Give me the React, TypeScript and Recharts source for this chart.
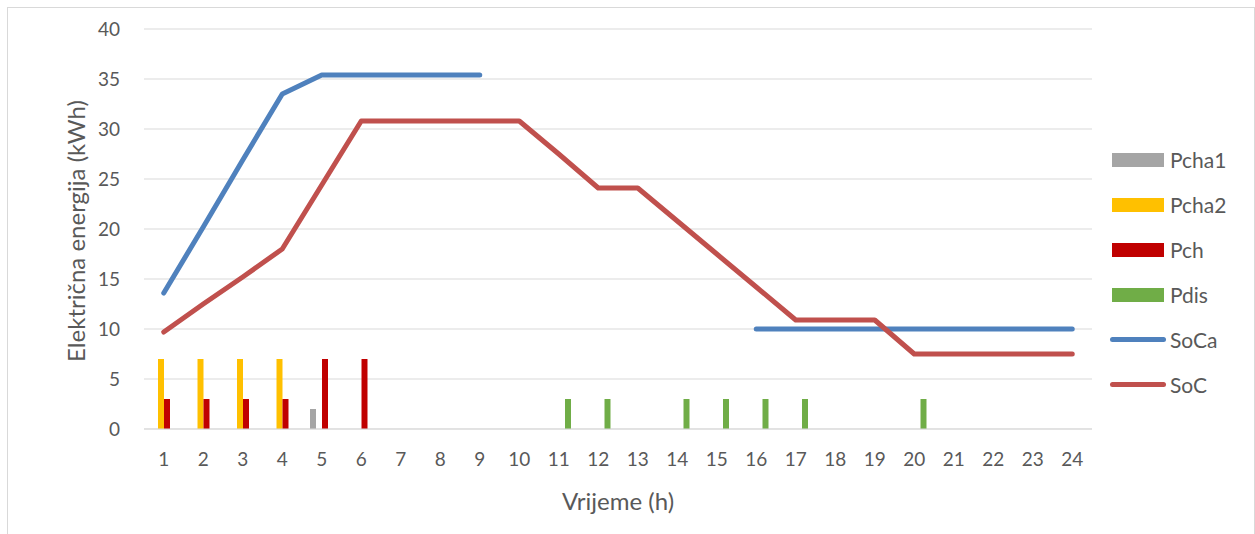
import {
  ComposedChart,
  Bar,
  Line,
  XAxis,
  YAxis,
  CartesianGrid,
} from "recharts";

const hours = [
  "1", "2", "3", "4", "5", "6", "7", "8", "9", "10", "11", "12",
  "13", "14", "15", "16", "17", "18", "19", "20", "21", "22", "23", "24",
];

const pcha1 = [null, null, null, null, 2, null, null, null, null, null, null, null,
  null, null, null, null, null, null, null, null, null, null, null, null];
const pcha2 = [7, 7, 7, 7, null, null, null, null, null, null, null, null,
  null, null, null, null, null, null, null, null, null, null, null, null];
const pch = [3, 3, 3, 3, 7, 7, null, null, null, null, null, null,
  null, null, null, null, null, null, null, null, null, null, null, null];
const pdis = [null, null, null, null, null, null, null, null, null, null, 3, 3,
  null, 3, 3, 3, 3, null, null, 3, null, null, null, null];
const soca = [13.6, 20.2, 26.9, 33.5, 35.4, 35.4, 35.4, 35.4, 35.4, null, null, null,
  null, null, null, 10, 10, 10, 10, 10, 10, 10, 10, 10];
const soc = [9.7, 12.5, 15.2, 18.0, 24.4, 30.8, 30.8, 30.8, 30.8, 30.8, 27.5, 24.1,
  24.1, 20.8, 17.5, 14.2, 10.9, 10.9, 10.9, 7.5, 7.5, 7.5, 7.5, 7.5];

const yTicks = [0, 5, 10, 15, 20, 25, 30, 35, 40];

const data = hours.map((h, i) => ({
  hour: h,
  Pcha1: pcha1[i],
  Pcha2: pcha2[i],
  Pch: pch[i],
  Pdis: pdis[i],
  SoCa: soca[i],
  SoC: soc[i],
}));

const legendItems = [
  { name: "Pcha1", color: "#A5A5A5", type: "bar" },
  { name: "Pcha2", color: "#FFC000", type: "bar" },
  { name: "Pch", color: "#C00000", type: "bar" },
  { name: "Pdis", color: "#70AD47", type: "bar" },
  { name: "SoCa", color: "#4F81BD", type: "line" },
  { name: "SoC", color: "#C0504D", type: "line" },
];

const font = "Lato, 'Open Sans', sans-serif";
const textColor = "#595959";

export default function App() {
  return (
    <div
      style={{
        position: "relative",
        width: 1255,
        height: 534,
        overflow: "hidden",
        background: "#fff",
        fontFamily: font,
        color: textColor,
      }}
    >
      <style>{`body{margin:0}`}</style>
      <div
        style={{
          position: "absolute",
          left: 7,
          top: 7,
          width: 1246,
          height: 560,
          border: "1px solid #D9D9D9",
        }}
      />
      <ComposedChart
        width={1255}
        height={534}
        data={data}
        margin={{ top: 29, right: 163, bottom: 65, left: 84 }}
        barGap={0}
        style={{ position: "absolute", left: 0, top: 0 }}
      >
        <CartesianGrid vertical={false} stroke="#D9D9D9" strokeWidth={1} />
        <XAxis
          dataKey="hour"
          height={40}
          tickLine={false}
          tickSize={0}
          tickMargin={24}
          axisLine={{ stroke: "#D9D9D9", strokeWidth: 1 }}
          tick={{ fill: textColor, fontSize: 19, fontFamily: font }}
          interval={0}
        />
        <YAxis
          width={60}
          domain={[0, 40]}
          ticks={yTicks}
          axisLine={false}
          tickLine={false}
          tickSize={0}
          tickMargin={24}
          tick={{ fill: textColor, fontSize: 19, fontFamily: font }}
        />
        <Bar dataKey="Pcha1" fill="#A5A5A5" barSize={6} isAnimationActive={false} />
        <Bar dataKey="Pcha2" fill="#FFC000" barSize={6} isAnimationActive={false} />
        <Bar dataKey="Pch" fill="#C00000" barSize={6} isAnimationActive={false} />
        <Bar dataKey="Pdis" fill="#70AD47" barSize={6} isAnimationActive={false} />
        <Line
          dataKey="SoCa"
          stroke="#4F81BD"
          strokeWidth={5}
          strokeLinecap="round"
          strokeLinejoin="round"
          dot={false}
          activeDot={false}
          type="linear"
          isAnimationActive={false}
        />
        <Line
          dataKey="SoC"
          stroke="#C0504D"
          strokeWidth={5}
          strokeLinecap="round"
          strokeLinejoin="round"
          dot={false}
          activeDot={false}
          type="linear"
          isAnimationActive={false}
        />
      </ComposedChart>

      {/* axis titles */}
      <div
        style={{
          position: "absolute",
          left: 618,
          top: 500,
          transform: "translate(-50%, -50%)",
          fontSize: 24,
          whiteSpace: "nowrap",
        }}
      >
        Vrijeme (h)
      </div>
      <div
        style={{
          position: "absolute",
          left: 75,
          top: 231,
          transform: "translate(-50%, -50%) rotate(-90deg)",
          fontSize: 24,
          whiteSpace: "nowrap",
        }}
      >
        Električna energija (kWh)
      </div>

      {/* legend */}
      <div style={{ position: "absolute", left: 1110, top: 137 }}>
        {legendItems.map((item) => (
          <div
            key={item.name}
            style={{ display: "flex", alignItems: "center", height: 45 }}
          >
            {item.type === "bar" ? (
              <div
                style={{
                  width: 52,
                  height: 14,
                  marginLeft: 2,
                  marginRight: 6,
                  background: item.color,
                }}
              />
            ) : (
              <div
                style={{
                  width: 56,
                  height: 5,
                  marginRight: 4,
                  borderRadius: 3,
                  background: item.color,
                }}
              />
            )}
            <span style={{ fontSize: 21 }}>{item.name}</span>
          </div>
        ))}
      </div>
    </div>
  );
}
